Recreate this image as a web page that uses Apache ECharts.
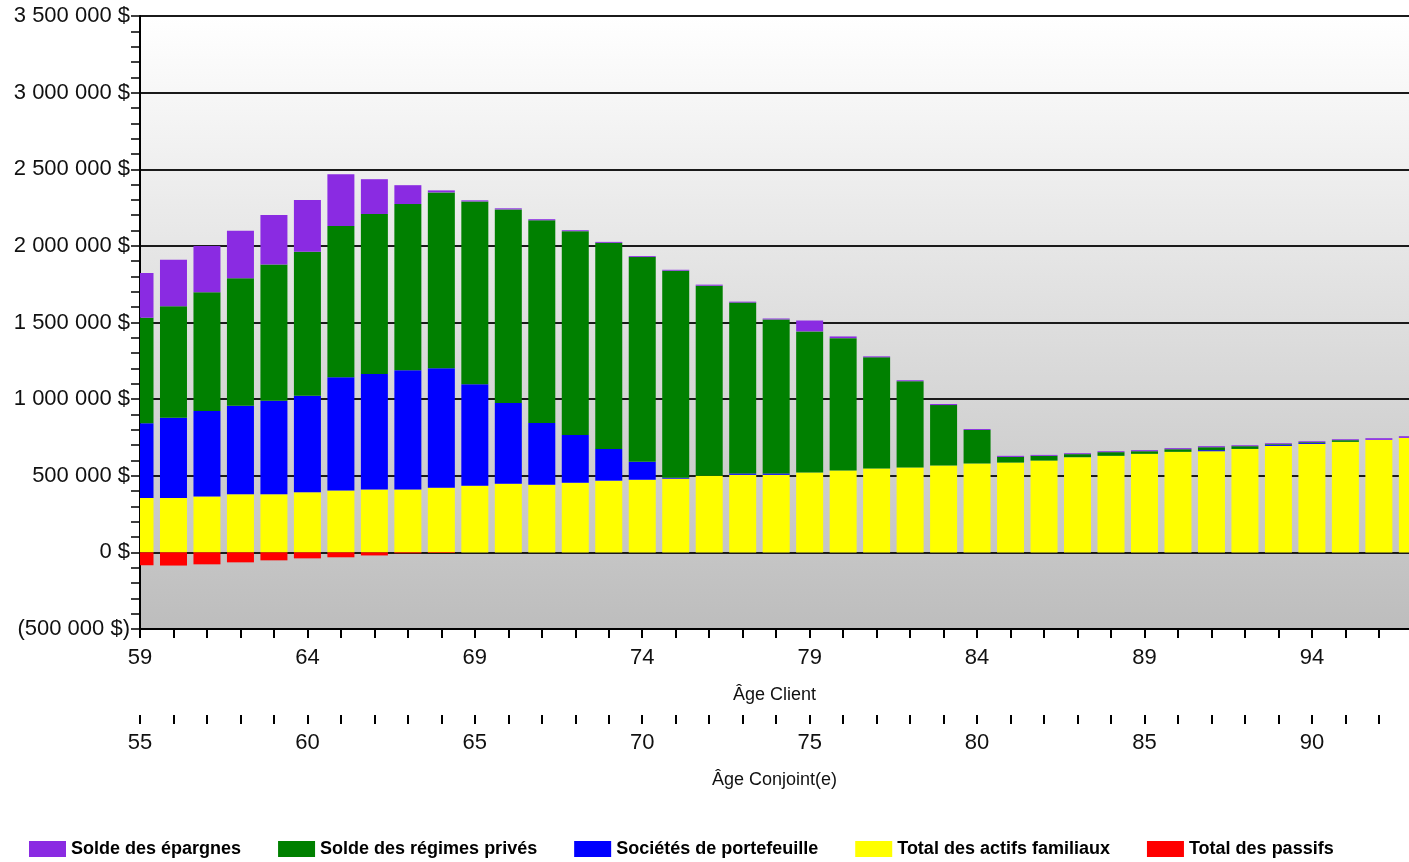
<!DOCTYPE html>
<html>
<head>
<meta charset="utf-8">
<script src="https://cdn.jsdelivr.net/npm/echarts@6/dist/echarts.min.js"></script>
<style>
  html, body { margin: 0; padding: 0; background: #fff; }
  #chart { width: 1409px; height: 862px; }
</style>
</head>
<body>
<div id="chart"></div>
<script>
// client age for each bar
const ages = [59, 60, 61, 62, 63, 64, 65, 66, 67, 68,
  69, 70, 71, 72, 73, 74, 75, 76, 77, 78,
  79, 80, 81, 82, 83, 84, 85, 86, 87, 88,
  89, 90, 91, 92, 93, 94, 95, 96, 97]

// values in $
const savings = [292000, 303000, 303000, 310000, 322000, 338000, 338000, 227000, 123000, 13000,
  7000, 7000, 7000, 6000, 6000, 6000, 6000, 7000, 6000, 6000,
  71000, 11000, 6000, 6000, 7000, 6000, 7000, 6000, 6000, 6000,
  7000, 7000, 7000, 6000, 6000, 6000, 6000, 11000, 11000]
const privatePlans = [689000, 727000, 775000, 831000, 890000, 939000, 987000, 1044000, 1085000, 1148000,
  1193000, 1264000, 1323000, 1330000, 1345000, 1336000, 1351000, 1240000, 1115000, 1005000,
  921000, 864000, 726000, 563000, 394000, 219000, 37000, 31000, 20000, 24000,
  17000, 17000, 19000, 18000, 5000, 5000, 11000, 0, 0]
const holdings = [487000, 524000, 558000, 578000, 610000, 630000, 740000, 753000, 777000, 779000,
  662000, 526000, 402000, 311000, 207000, 117000, 6000, 0, 9000, 9000,
  0, 0, 0, 0, 0, 0, 0, 0, 0, 0,
  0, 0, 7000, 0, 6000, 6000, 0, 0, 0]
const familyAssets = [355000, 355000, 364000, 379000, 379000, 392000, 403000, 411000, 411000, 422000,
  435000, 448000, 442000, 455000, 468000, 474000, 481000, 500000, 506000, 506000,
  521000, 534000, 547000, 554000, 567000, 580000, 586000, 599000, 621000, 630000,
  643000, 656000, 660000, 675000, 695000, 708000, 721000, 734000, 747000]
const liabilities = [-84000, -86000, -78000, -65000, -52000, -39000, -32000, -20000, -6000, -4000,
  0, 0, 0, 0, 0, 0, 0, 0, 0, 0,
  0, 0, 0, 0, 0, 0, 0, 0, 0, 0,
  0, 0, 0, 0, 0, 0, 0, 0, 0]

const clientAgeLabels = [59, 64, 69, 74, 79, 84, 89, 94]
const spouseAgeLabels = [55, 60, 65, 70, 75, 80, 85, 90]
const spouseOffset = 4 // spouse is 4 years younger

const font = 'Liberation Sans, Arial, sans-serif'
const barWidth = 27
const clientMax = 96.9

function money(v) {
  const s = String(Math.abs(v)).replace(/\B(?=(\d{3})+(?!\d))/g, ' ')
  return v < 0 ? '(' + s + ' $)' : s + ' $'
}

// stacked bar drawn as a custom series so it can be clipped to the grid
function bar(name, values, below, color) {
  return {
    name,
    type: 'custom',
    xAxisIndex: 0,
    itemStyle: { color },
    encode: { x: 0, y: [1, 2] },
    data: ages.map((a, i) => [a, below[i], below[i] + values[i]]),
    renderItem(params, api) {
      const p0 = api.coord([api.value(0), api.value(1)])
      const p1 = api.coord([api.value(0), api.value(2)])
      const cs = params.coordSys
      const shape = echarts.graphic.clipRectByRect({
        x: p0[0] - barWidth / 2,
        y: Math.min(p0[1], p1[1]),
        width: barWidth,
        height: Math.abs(p0[1] - p1[1])
      }, { x: cs.x, y: cs.y, width: cs.width, height: cs.height })
      return shape && { type: 'rect', shape, style: { fill: color } }
    }
  }
}

const zero = ages.map(() => 0)
const onAssets = familyAssets.slice()
const onHoldings = onAssets.map((v, i) => v + holdings[i])
const onPlans = onHoldings.map((v, i) => v + privatePlans[i])
const clientTicks = ages.filter(a => a <= clientMax)
const spouseTicks = clientTicks.map(a => a - spouseOffset)

const chart = echarts.init(document.getElementById('chart'))
chart.setOption({
  animation: false,
  textStyle: { fontFamily: font },
  grid: {
    left: 140,
    right: 0,
    top: 16,
    bottom: 233,
    show: true,
    borderWidth: 0,
    backgroundColor: {
      type: 'linear', x: 0, y: 0, x2: 0, y2: 1,
      colorStops: [{ offset: 0, color: '#ffffff' }, { offset: 1, color: '#bdbdbd' }]
    }
  },
  legend: {
    left: 29,
    top: 840,
    padding: 0,
    icon: 'rect',
    itemWidth: 37,
    itemHeight: 16,
    itemGap: 37,
    textStyle: { fontSize: 18, fontWeight: 'bold', color: '#000', fontFamily: font },
    data: ['Solde des épargnes', 'Solde des régimes privés', 'Sociétés de portefeuille',
      'Total des actifs familiaux', 'Total des passifs']
  },
  yAxis: {
    type: 'value',
    min: -500000,
    max: 3500000,
    interval: 500000,
    axisLine: { show: true, lineStyle: { color: '#000', width: 2 } },
    axisTick: { show: true, length: 9, lineStyle: { color: '#000', width: 1.5 } },
    minorTick: { show: true, splitNumber: 5, length: 9, lineStyle: { color: '#000', width: 1.5 } },
    splitLine: { show: true, lineStyle: { color: '#1a1a1a', width: 2 } },
    axisLabel: { fontSize: 22, color: '#111', margin: 10, padding: [5, 0, 0, 0], formatter: money }
  },
  xAxis: [{
    type: 'value',
    min: 59,
    max: clientMax,
    position: 'bottom',
    name: 'Âge Client',
    nameLocation: 'middle',
    nameGap: 57,
    nameTextStyle: { fontSize: 18, color: '#111' },
    axisLine: { show: true, onZero: false, lineStyle: { color: '#000', width: 2 } },
    axisTick: { show: true, length: 9, customValues: clientTicks, lineStyle: { color: '#000', width: 2 } },
    splitLine: { show: false },
    axisLabel: { fontSize: 22, color: '#111', margin: 18, customValues: clientAgeLabels }
  }, {
    type: 'value',
    min: 59 - spouseOffset,
    max: clientMax - spouseOffset,
    position: 'bottom',
    offset: 86,
    name: 'Âge Conjoint(e)',
    nameLocation: 'middle',
    nameGap: 56,
    nameTextStyle: { fontSize: 18, color: '#111' },
    axisLine: { show: true, onZero: false, lineStyle: { color: '#000', opacity: 0 } },
    axisTick: { show: true, length: 9, customValues: spouseTicks, lineStyle: { color: '#000', width: 2 } },
    splitLine: { show: false },
    axisLabel: { fontSize: 22, color: '#111', margin: 17, customValues: spouseAgeLabels }
  }],
  series: [
    bar('Total des actifs familiaux', familyAssets, zero, '#ffff00'),
    bar('Sociétés de portefeuille', holdings, onAssets, '#0000ff'),
    bar('Solde des régimes privés', privatePlans, onHoldings, '#008000'),
    bar('Solde des épargnes', savings, onPlans, '#8a2be2'),
    bar('Total des passifs', liabilities, zero, '#ff0000')
  ]
})
</script>
</body>
</html>
